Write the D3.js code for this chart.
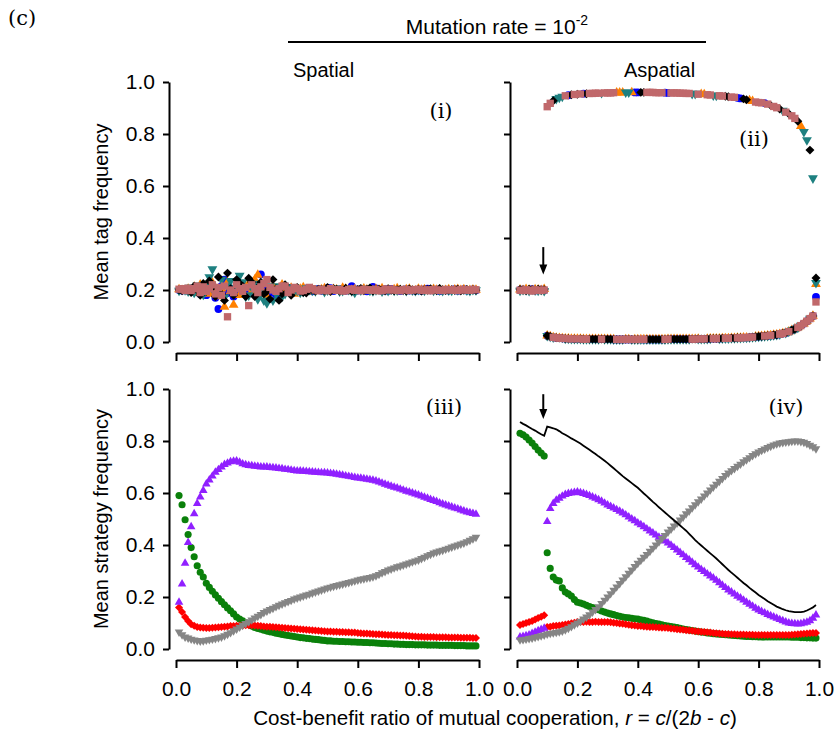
<!DOCTYPE html>
<html>
<head>
<meta charset="utf-8">
<script src="https://cdn.jsdelivr.net/npm/d3@7"></script>
<style>
  body { margin: 0; background: #fff; }
  svg text { font-family: "Liberation Sans", Arial, sans-serif; fill: #000; }
</style>
</head>
<body>
<svg id="chart" width="834" height="734"></svg>
<script>
// ---- data ----
const rGrid = [0.01,0.02,0.03,0.04,0.05,0.06,0.07,0.08,0.09,0.10,
               0.11,0.12,0.13,0.14,0.15,0.16,0.17,0.18,0.19,0.20,
               0.21,0.22,0.23,0.24,0.25,0.26,0.27,0.28,0.29,0.30,
               0.31,0.32,0.33,0.34,0.35,0.36,0.37,0.38,0.39,0.40,
               0.41,0.42,0.43,0.44,0.45,0.46,0.47,0.48,0.49,0.50,
               0.51,0.52,0.53,0.54,0.55,0.56,0.57,0.58,0.59,0.60,
               0.61,0.62,0.63,0.64,0.65,0.66,0.67,0.68,0.69,0.70,
               0.71,0.72,0.73,0.74,0.75,0.76,0.77,0.78,0.79,0.80,
               0.81,0.82,0.83,0.84,0.85,0.86,0.87,0.88,0.89,0.90,
               0.91,0.92,0.93,0.94,0.95,0.96,0.97,0.98,0.99];
const yTicks = [0, 0.2, 0.4, 0.6, 0.8, 1.0];
const xTicks = [0, 0.2, 0.4, 0.6, 0.8, 1.0];

// (i) spatial tag frequencies, five tags
const spTagBlue = [0.200,0.198,0.203,0.197,0.205,0.192,0.210,0.185,0.215,0.180,
  0.225,0.195,0.170,0.127,0.215,0.240,0.188,0.205,0.175,0.218,
  0.190,0.220,0.205,0.195,0.230,0.185,0.175,0.260,0.215,0.205,
  0.190,0.210,0.180,0.200,0.215,0.210,0.192,0.195,0.207,0.205,
  0.198,0.194,0.206,0.202,0.195,0.201,0.204,0.197,0.199,0.208,
  0.207,0.196,0.200,0.202,0.204,0.197,0.199,0.215,0.203,0.198,
  0.203,0.199,0.195,0.201,0.212,0.206,0.200,0.197,0.203,0.197,
  0.204,0.200,0.199,0.196,0.201,0.203,0.198,0.201,0.197,0.201,
  0.197,0.203,0.205,0.199,0.200,0.202,0.196,0.198,0.201,0.198,
  0.201,0.203,0.197,0.200,0.203,0.198,0.200,0.202,0.199];
const spTagOrange = [0.202,0.199,0.196,0.204,0.195,0.212,0.188,0.220,0.193,0.215,
  0.185,0.228,0.190,0.175,0.205,0.135,0.230,0.195,0.143,0.210,
  0.180,0.185,0.215,0.225,0.195,0.240,0.258,0.200,0.185,0.175,
  0.200,0.215,0.205,0.190,0.220,0.190,0.200,0.208,0.185,0.196,
  0.204,0.210,0.193,0.198,0.203,0.196,0.198,0.202,0.206,0.200,
  0.197,0.203,0.201,0.196,0.208,0.204,0.195,0.199,0.202,0.197,
  0.199,0.205,0.201,0.196,0.198,0.203,0.200,0.206,0.198,0.200,
  0.198,0.202,0.206,0.199,0.197,0.202,0.204,0.197,0.197,0.204,
  0.200,0.202,0.198,0.196,0.203,0.200,0.201,0.197,0.199,0.202,
  0.197,0.201,0.203,0.199,0.202,0.198,0.199,0.201,0.200];
const spTagTeal = [0.198,0.203,0.200,0.195,0.210,0.190,0.218,0.200,0.182,0.222,
  0.250,0.280,0.185,0.205,0.240,0.172,0.215,0.235,0.190,0.208,
  0.255,0.230,0.175,0.180,0.210,0.225,0.165,0.190,0.160,0.150,
  0.215,0.160,0.185,0.215,0.175,0.185,0.205,0.212,0.195,0.198,
  0.190,0.193,0.207,0.201,0.198,0.196,0.205,0.202,0.193,0.199,
  0.202,0.204,0.206,0.195,0.197,0.203,0.201,0.196,0.190,0.203,
  0.199,0.201,0.205,0.198,0.196,0.200,0.202,0.195,0.200,0.197,
  0.204,0.198,0.199,0.202,0.201,0.197,0.203,0.199,0.197,0.201,
  0.200,0.198,0.202,0.204,0.198,0.201,0.199,0.197,0.203,0.199,
  0.198,0.202,0.200,0.201,0.203,0.199,0.197,0.201,0.200];
const spTagBlack = [0.201,0.197,0.204,0.199,0.190,0.215,0.200,0.180,0.225,0.195,
  0.235,0.210,0.175,0.250,0.185,0.160,0.265,0.205,0.180,0.240,
  0.225,0.215,0.175,0.245,0.230,0.175,0.210,0.230,0.185,0.195,
  0.165,0.240,0.205,0.160,0.185,0.220,0.195,0.180,0.205,0.210,
  0.195,0.190,0.188,0.206,0.200,0.196,0.203,0.201,0.197,0.210,
  0.194,0.205,0.203,0.196,0.199,0.207,0.201,0.195,0.198,0.202,
  0.206,0.198,0.203,0.208,0.196,0.201,0.203,0.200,0.197,0.205,
  0.199,0.197,0.201,0.203,0.199,0.196,0.204,0.200,0.197,0.202,
  0.196,0.200,0.202,0.205,0.200,0.198,0.206,0.201,0.198,0.200,
  0.201,0.199,0.203,0.197,0.200,0.202,0.199,0.201,0.199];
const spTagRose = [0.203,0.205,0.198,0.207,0.198,0.205,0.215,0.190,0.212,0.195,
  0.205,0.220,0.185,0.210,0.180,0.215,0.097,0.200,0.190,0.220,
  0.205,0.195,0.210,0.140,0.220,0.205,0.190,0.212,0.225,0.240,
  0.210,0.200,0.195,0.205,0.215,0.215,0.190,0.200,0.210,0.205,
  0.196,0.198,0.203,0.210,0.205,0.200,0.197,0.203,0.199,0.197,
  0.205,0.201,0.199,0.202,0.196,0.198,0.202,0.204,0.199,0.200,
  0.197,0.203,0.200,0.201,0.199,0.202,0.197,0.198,0.203,0.200,
  0.203,0.200,0.199,0.197,0.201,0.202,0.198,0.200,0.201,0.203,
  0.199,0.198,0.201,0.197,0.202,0.200,0.199,0.198,0.202,0.200,
  0.201,0.199,0.198,0.202,0.200,0.201,0.199,0.202,0.201];

// (ii) aspatial tag frequencies
// r = 0.01..0.09: all five tags near 0.2
const asTagPre = [
  [0.200,0.202,0.199,0.201,0.203,0.198,0.200,0.202,0.199],
  [0.201,0.199,0.203,0.200,0.198,0.202,0.201,0.199,0.203],
  [0.198,0.201,0.200,0.197,0.202,0.199,0.198,0.201,0.197],
  [0.202,0.200,0.198,0.203,0.201,0.200,0.203,0.199,0.201],
  [0.199,0.198,0.201,0.199,0.196,0.201,0.199,0.198,0.200]
];
// r = 0.10..0.98: dominant tag frequency, frequency of the other tags, index of the dominant tag
const asTagUpper = [0.905,0.918,0.928,0.935,0.940,0.944,0.947,0.949,0.951,0.952,
  0.953,0.954,0.955,0.955,0.956,0.956,0.957,0.957,0.958,0.958,
  0.958,0.958,0.959,0.959,0.959,0.959,0.960,0.960,0.960,0.960,
  0.960,0.960,0.960,0.960,0.960,0.960,0.959,0.959,0.959,0.959,
  0.958,0.958,0.958,0.958,0.957,0.957,0.956,0.956,0.955,0.955,
  0.953,0.953,0.952,0.951,0.950,0.949,0.948,0.947,0.946,0.945,
  0.943,0.942,0.941,0.939,0.937,0.935,0.932,0.929,0.926,0.923,
  0.921,0.920,0.919,0.915,0.910,0.906,0.901,0.896,0.890,0.884,
  0.878,0.870,0.860,0.849,0.830,0.808,0.777,0.738,0.630];
const asTagLower = [0.024,0.021,0.018,0.016,0.015,0.014,0.013,0.013,0.012,0.012,
  0.012,0.012,0.011,0.011,0.011,0.011,0.011,0.011,0.011,0.011,
  0.011,0.011,0.010,0.010,0.010,0.010,0.010,0.010,0.010,0.010,
  0.010,0.010,0.010,0.010,0.010,0.010,0.010,0.010,0.010,0.010,
  0.011,0.011,0.011,0.011,0.011,0.011,0.011,0.011,0.011,0.011,
  0.012,0.012,0.012,0.012,0.013,0.013,0.013,0.013,0.014,0.014,
  0.014,0.015,0.015,0.016,0.016,0.017,0.017,0.018,0.019,0.020,
  0.021,0.022,0.023,0.024,0.025,0.027,0.028,0.030,0.033,0.035,
  0.040,0.045,0.050,0.056,0.063,0.071,0.080,0.090,0.100];
const asTagLeader = [4,4,3,2,2,2,4,0,3,4,
  3,4,0,3,4,4,4,4,2,4,
  4,4,4,1,1,1,2,2,1,0,
  0,3,3,4,4,4,4,4,4,0,
  0,4,4,4,4,4,4,4,2,2,
  4,1,1,4,4,2,2,4,4,3,
  3,4,4,0,0,3,3,1,1,4,
  4,4,0,4,3,4,4,3,2,4,
  3,4,4,3,1,2,2,3,2];
// r = 0.99: tags mixed again
const asTagEnd = [0.173,0.222,0.228,0.246,0.154];

// (iii) spatial strategy frequencies
const spGreen = [0.59,0.555,0.497,0.44,0.39,0.355,0.32,0.295,0.277,0.253,
  0.237,0.222,0.208,0.195,0.182,0.17,0.158,0.147,0.135,0.123,
  0.115,0.108,0.101,0.094,0.088,0.083,0.079,0.076,0.072,0.069,
  0.066,0.064,0.061,0.059,0.056,0.054,0.052,0.05,0.048,0.046,
  0.044,0.043,0.041,0.04,0.038,0.037,0.036,0.034,0.033,0.031,
  0.031,0.03,0.03,0.029,0.029,0.028,0.028,0.027,0.027,0.026,
  0.026,0.025,0.025,0.024,0.024,0.023,0.022,0.021,0.021,0.02,
  0.02,0.019,0.019,0.018,0.018,0.017,0.017,0.017,0.016,0.016,
  0.016,0.016,0.015,0.015,0.015,0.015,0.014,0.014,0.014,0.014,
  0.014,0.013,0.013,0.013,0.013,0.012,0.012,0.012,0.012];
const spRed = [0.16,0.142,0.123,0.108,0.095,0.089,0.085,0.083,0.082,0.081,
  0.081,0.082,0.083,0.084,0.085,0.086,0.087,0.088,0.088,0.089,
  0.09,0.09,0.091,0.091,0.091,0.09,0.089,0.088,0.087,0.086,
  0.086,0.085,0.084,0.083,0.082,0.081,0.08,0.079,0.078,0.077,
  0.076,0.075,0.074,0.073,0.072,0.071,0.07,0.069,0.068,0.067,
  0.067,0.066,0.066,0.065,0.065,0.064,0.064,0.063,0.063,0.062,
  0.061,0.06,0.06,0.059,0.058,0.057,0.057,0.056,0.055,0.054,
  0.054,0.053,0.053,0.052,0.052,0.051,0.05,0.049,0.048,0.047,
  0.047,0.046,0.046,0.046,0.046,0.045,0.045,0.045,0.045,0.044,
  0.044,0.044,0.044,0.043,0.043,0.043,0.043,0.042,0.042];
const spPurple = [0.18,0.25,0.33,0.41,0.47,0.52,0.56,0.585,0.61,0.635,
  0.65,0.665,0.68,0.69,0.70,0.71,0.715,0.72,0.722,0.723,
  0.718,0.712,0.709,0.706,0.705,0.703,0.702,0.70,0.70,0.70,
  0.698,0.697,0.696,0.694,0.693,0.691,0.69,0.688,0.686,0.685,
  0.685,0.684,0.683,0.682,0.681,0.680,0.679,0.678,0.678,0.677,
  0.675,0.674,0.672,0.67,0.668,0.666,0.664,0.662,0.66,0.658,
  0.657,0.655,0.653,0.651,0.649,0.646,0.642,0.638,0.634,0.63,
  0.626,0.622,0.619,0.615,0.611,0.607,0.604,0.6,0.596,0.592,
  0.588,0.584,0.58,0.575,0.571,0.567,0.562,0.558,0.554,0.55,
  0.546,0.542,0.539,0.535,0.531,0.527,0.524,0.521,0.518];
const spGray = [0.065,0.055,0.046,0.042,0.038,0.035,0.033,0.031,0.032,0.034,
  0.036,0.038,0.04,0.043,0.046,0.051,0.057,0.063,0.07,0.077,
  0.084,0.091,0.098,0.105,0.112,0.119,0.126,0.133,0.14,0.146,
  0.152,0.157,0.163,0.168,0.173,0.178,0.183,0.187,0.192,0.196,
  0.2,0.204,0.208,0.211,0.215,0.219,0.223,0.227,0.231,0.235,
  0.238,0.241,0.244,0.247,0.25,0.253,0.256,0.259,0.262,0.265,
  0.268,0.27,0.273,0.275,0.278,0.282,0.287,0.293,0.298,0.304,
  0.308,0.312,0.316,0.319,0.323,0.327,0.331,0.335,0.339,0.342,
  0.348,0.353,0.359,0.364,0.369,0.373,0.377,0.38,0.384,0.388,
  0.392,0.396,0.4,0.404,0.408,0.413,0.418,0.424,0.43];

// (iv) aspatial strategy frequencies
const asGreen = [0.83,0.824,0.815,0.804,0.792,0.779,0.765,0.754,0.742,0.37,
  0.31,0.277,0.265,0.262,0.235,0.219,0.212,0.204,0.19,0.18,
  0.177,0.173,0.168,0.163,0.159,0.156,0.151,0.146,0.142,0.138,
  0.135,0.132,0.129,0.126,0.123,0.121,0.12,0.118,0.116,0.115,
  0.112,0.11,0.107,0.104,0.101,0.098,0.096,0.093,0.09,0.088,
  0.086,0.084,0.082,0.08,0.077,0.075,0.073,0.071,0.069,0.067,
  0.065,0.064,0.062,0.061,0.059,0.058,0.057,0.056,0.055,0.054,
  0.053,0.052,0.051,0.05,0.049,0.048,0.048,0.047,0.047,0.046,
  0.046,0.046,0.046,0.046,0.046,0.046,0.046,0.046,0.046,0.046,
  0.045,0.045,0.045,0.044,0.044,0.043,0.043,0.042,0.042];
const asRed = [0.092,0.096,0.1,0.104,0.108,0.113,0.119,0.124,0.13,0.085,
  0.086,0.088,0.089,0.09,0.092,0.094,0.096,0.099,0.101,0.104,
  0.104,0.104,0.105,0.104,0.104,0.105,0.104,0.104,0.104,0.104,
  0.103,0.101,0.1,0.098,0.097,0.095,0.093,0.091,0.09,0.088,
  0.088,0.087,0.086,0.085,0.085,0.084,0.083,0.082,0.082,0.081,
  0.079,0.078,0.076,0.075,0.074,0.072,0.071,0.07,0.068,0.067,
  0.066,0.065,0.064,0.063,0.062,0.061,0.06,0.059,0.058,0.058,
  0.057,0.057,0.056,0.056,0.056,0.055,0.055,0.055,0.054,0.054,
  0.054,0.054,0.054,0.054,0.054,0.054,0.054,0.054,0.054,0.054,
  0.055,0.056,0.057,0.058,0.059,0.06,0.061,0.062,0.062];
const asPurple = [0.046,0.048,0.051,0.054,0.06,0.065,0.07,0.075,0.08,0.49,
  0.54,0.56,0.572,0.58,0.588,0.594,0.598,0.6,0.602,0.604,
  0.601,0.598,0.594,0.59,0.585,0.58,0.574,0.568,0.561,0.554,
  0.548,0.542,0.536,0.53,0.523,0.516,0.508,0.5,0.493,0.485,
  0.478,0.47,0.462,0.454,0.446,0.438,0.43,0.423,0.415,0.408,
  0.399,0.39,0.381,0.371,0.362,0.352,0.343,0.334,0.324,0.315,
  0.306,0.298,0.289,0.281,0.273,0.264,0.255,0.245,0.236,0.227,
  0.219,0.211,0.203,0.196,0.188,0.18,0.172,0.165,0.157,0.15,
  0.144,0.139,0.133,0.128,0.123,0.118,0.113,0.109,0.104,0.1,
  0.098,0.097,0.096,0.097,0.1,0.103,0.109,0.118,0.131];
const asGray = [0.035,0.036,0.038,0.04,0.042,0.045,0.048,0.051,0.054,0.058,
  0.06,0.062,0.064,0.066,0.069,0.074,0.08,0.086,0.093,0.1,
  0.107,0.115,0.123,0.132,0.142,0.152,0.163,0.175,0.188,0.2,
  0.213,0.226,0.239,0.252,0.265,0.278,0.291,0.304,0.317,0.33,
  0.341,0.353,0.364,0.376,0.388,0.4,0.412,0.425,0.437,0.45,
  0.461,0.473,0.484,0.496,0.508,0.52,0.531,0.543,0.555,0.566,
  0.577,0.589,0.6,0.612,0.623,0.634,0.645,0.656,0.667,0.677,
  0.686,0.694,0.703,0.711,0.72,0.728,0.736,0.744,0.751,0.758,
  0.764,0.769,0.775,0.78,0.785,0.789,0.792,0.794,0.796,0.797,
  0.799,0.8,0.8,0.798,0.795,0.79,0.784,0.778,0.77];
const asTotal = [0.873,0.866,0.86,0.853,0.846,0.84,0.833,0.826,0.82,0.855,
  0.852,0.849,0.845,0.838,0.83,0.824,0.817,0.81,0.804,0.797,
  0.79,0.782,0.774,0.766,0.758,0.75,0.741,0.733,0.724,0.715,
  0.705,0.695,0.685,0.675,0.665,0.656,0.647,0.638,0.629,0.62,
  0.609,0.598,0.588,0.577,0.566,0.556,0.545,0.535,0.525,0.515,
  0.505,0.495,0.485,0.475,0.465,0.455,0.443,0.431,0.419,0.408,
  0.398,0.388,0.378,0.368,0.358,0.348,0.337,0.326,0.315,0.304,
  0.294,0.284,0.274,0.264,0.254,0.245,0.235,0.226,0.217,0.208,
  0.2,0.192,0.184,0.177,0.17,0.163,0.158,0.153,0.149,0.146,
  0.144,0.142,0.142,0.142,0.144,0.148,0.154,0.16,0.169];

// aspatial tag series rebuilt from the branches above
const nPre = asTagPre[0].length;
const asTags = [0, 1, 2, 3, 4].map(k => rGrid.map((r, i) => {
  if (i < nPre) return asTagPre[k][i];
  if (i === rGrid.length - 1) return asTagEnd[k];
  return asTagLeader[i - nPre] === k ? asTagUpper[i - nPre] : asTagLower[i - nPre];
}));
const spTags = [spTagBlue, spTagOrange, spTagTeal, spTagBlack, spTagRose];

// ---- drawing ----
const svg = d3.select('#chart');
const xL = d3.scaleLinear().domain([0, 1]).range([176, 479]);
const xR = d3.scaleLinear().domain([0, 1]).range([517, 819]);
const yT = d3.scaleLinear().domain([0, 1]).range([342, 82]);
const yB = d3.scaleLinear().domain([0, 1]).range([649, 389]);

function axes(x, y, labX, labY) {
  const x0 = x.range()[0], y0 = y.range()[0];
  const gy = svg.append('g')
    .attr('transform', `translate(${x0 - 7},0)`)
    .call(d3.axisLeft(y).tickValues(yTicks).tickSize(6).tickSizeOuter(0).tickPadding(8)
      .tickFormat(labY ? d3.format('.1f') : ''));
  const gx = svg.append('g')
    .attr('transform', `translate(0,${y0 + 11})`)
    .call(d3.axisBottom(x).tickValues(xTicks).tickSize(8).tickSizeOuter(0).tickPadding(13)
      .tickFormat(labX ? d3.format('.1f') : ''));
  [gx, gy].forEach(g => {
    g.attr('font-size', 21).attr('font-family', null);
    g.selectAll('path, line').attr('stroke', '#000').attr('stroke-width', 2);
  });
}
axes(xL, yT, false, true);
axes(xR, yT, false, false);
axes(xL, yB, true, true);
axes(xR, yB, true, false);

const tagStyle = [
  {shape: d3.symbolCircle, size: 48, color: '#0000ff', rot: 0},
  {shape: d3.symbolTriangle, size: 42, color: '#ff8000', rot: 0},
  {shape: d3.symbolTriangle, size: 42, color: '#1e8080', rot: 180},
  {shape: d3.symbolSquare, size: 40, color: '#000000', rot: 45},
  {shape: d3.symbolSquare, size: 54, color: '#c0686b', rot: 0}
];
const stratStyle = {
  green:  {shape: d3.symbolCircle, size: 40, color: '#0a800a', rot: 0},
  red:    {shape: d3.symbolSquare, size: 32, color: '#ff0000', rot: 45},
  purple: {shape: d3.symbolTriangle, size: 32, color: '#9020ff', rot: 0},
  gray:   {shape: d3.symbolTriangle, size: 32, color: '#858585', rot: 180}
};

function points(x, y, vals, st) {
  svg.append('g').selectAll('path')
    .data(vals.map((v, i) => [rGrid[i], v]))
    .join('path')
    .attr('d', d3.symbol(st.shape, st.size))
    .attr('transform', d => `translate(${x(d[0])},${y(d[1])}) rotate(${st.rot})`)
    .attr('fill', st.color);
}

spTags.forEach((vals, k) => points(xL, yT, vals, tagStyle[k]));
asTags.forEach((vals, k) => points(xR, yT, vals, tagStyle[k]));

[[spGreen, 'green'], [spRed, 'red'], [spPurple, 'purple'], [spGray, 'gray']]
  .forEach(([v, s]) => points(xL, yB, v, stratStyle[s]));
[[asGreen, 'green'], [asRed, 'red'], [asPurple, 'purple'], [asGray, 'gray']]
  .forEach(([v, s]) => points(xR, yB, v, stratStyle[s]));

svg.append('path')
  .datum(asTotal.map((v, i) => [rGrid[i], v]))
  .attr('d', d3.line().x(d => xR(d[0])).y(d => yB(d[1])))
  .attr('fill', 'none').attr('stroke', '#000').attr('stroke-width', 1.8);

// arrows marking the transition in the aspatial case
function arrow(x, y1, y2) {
  svg.append('line').attr('x1', x).attr('x2', x).attr('y1', y1).attr('y2', y2 - 8)
    .attr('stroke', '#000').attr('stroke-width', 2);
  svg.append('path')
    .attr('d', `M${x - 4},${y2 - 10} L${x + 4},${y2 - 10} L${x},${y2} Z`)
    .attr('fill', '#000');
}
arrow(xR(0.087), yT(0.365), yT(0.26));
arrow(xR(0.087), yB(0.98), yB(0.885));

// titles and labels
const title = svg.append('text').attr('x', 497).attr('y', 34)
  .attr('text-anchor', 'middle').attr('font-size', 21);
title.append('tspan').text('Mutation rate = 10');
title.append('tspan').attr('font-size', 14).attr('dy', -9).text('-2');
svg.append('line').attr('x1', 288).attr('x2', 706).attr('y1', 42).attr('y2', 42)
  .attr('stroke', '#000').attr('stroke-width', 2);
svg.append('text').attr('x', 293).attr('y', 77).attr('font-size', 20).text('Spatial');
svg.append('text').attr('x', 624).attr('y', 77).attr('font-size', 20).text('Aspatial');

svg.append('text').attr('x', 8).attr('y', 25).attr('font-size', 21)
  .style('font-family', '"DejaVu Serif", serif').text('(c)');
[['(i)', 441, 118], ['(ii)', 754, 146], ['(iii)', 444, 414], ['(iv)', 786, 414]]
  .forEach(([t, x, y]) => svg.append('text').attr('x', x).attr('y', y)
    .attr('text-anchor', 'middle').attr('font-size', 21)
    .style('font-family', '"DejaVu Serif", serif').text(t));

svg.append('text').attr('transform', 'translate(101,212) rotate(-90)')
  .attr('text-anchor', 'middle').attr('dy', '0.35em').attr('font-size', 20)
  .text('Mean tag frequency');
svg.append('text').attr('transform', 'translate(101,519) rotate(-90)')
  .attr('text-anchor', 'middle').attr('dy', '0.35em').attr('font-size', 20)
  .text('Mean strategy frequency');

const xlab = svg.append('text').attr('x', 495).attr('y', 725)
  .attr('text-anchor', 'middle').attr('font-size', 20.6);
xlab.append('tspan').text('Cost-benefit ratio of mutual cooperation, ');
xlab.append('tspan').attr('font-style', 'italic').text('r');
xlab.append('tspan').text(' = ');
xlab.append('tspan').attr('font-style', 'italic').text('c');
xlab.append('tspan').text('/(2');
xlab.append('tspan').attr('font-style', 'italic').text('b');
xlab.append('tspan').text(' - ');
xlab.append('tspan').attr('font-style', 'italic').text('c');
xlab.append('tspan').text(')');
</script>
</body>
</html>
